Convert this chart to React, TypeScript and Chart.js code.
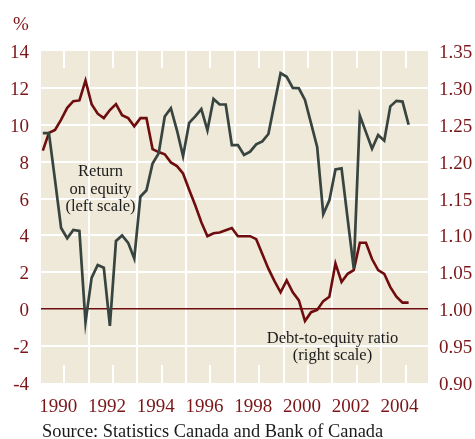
import React, { useEffect, useRef } from "react";
import { Chart, registerables } from "chart.js";

Chart.register(...registerables);

// Quarterly observations (1989Q1 – 2004Q1)
const quarters = [
  "1989Q1", "1989Q2", "1989Q3", "1989Q4",
  "1990Q1", "1990Q2", "1990Q3", "1990Q4",
  "1991Q1", "1991Q2", "1991Q3", "1991Q4",
  "1992Q1", "1992Q2", "1992Q3", "1992Q4",
  "1993Q1", "1993Q2", "1993Q3", "1993Q4",
  "1994Q1", "1994Q2", "1994Q3", "1994Q4",
  "1995Q1", "1995Q2", "1995Q3", "1995Q4",
  "1996Q1", "1996Q2", "1996Q3", "1996Q4",
  "1997Q1", "1997Q2", "1997Q3", "1997Q4",
  "1998Q1", "1998Q2", "1998Q3", "1998Q4",
  "1999Q1", "1999Q2", "1999Q3", "1999Q4",
  "2000Q1", "2000Q2", "2000Q3", "2000Q4",
  "2001Q1", "2001Q2", "2001Q3", "2001Q4",
  "2002Q1", "2002Q2", "2002Q3", "2002Q4",
  "2003Q1", "2003Q2", "2003Q3", "2003Q4",
  "2004Q1",
];

// Return on equity, % (left scale)
const returnOnEquity = [
  9.55, 9.55, 7.0, 4.4, 3.85, 4.3, 4.25, -0.7,
  1.7, 2.4, 2.25, -0.9, 3.7, 4.0, 3.6, 2.75,
  6.1, 6.45, 7.9, 8.45, 10.45, 10.9, 9.7, 8.3,
  10.1, 10.45, 10.85, 9.7, 11.4, 11.1, 11.1, 8.9,
  8.9, 8.36, 8.54, 8.94, 9.1, 9.5, 11.17, 12.8,
  12.6, 12.0, 11.98, 11.35, 10.08, 8.8, 5.15, 5.9,
  7.58, 7.64, 4.9, 2.2, 10.5, 9.6, 8.7, 9.45,
  9.14, 11.0, 11.3, 11.26, 10.0,
];

// Debt-to-equity ratio (right scale)
const debtToEquity = [
  1.215, 1.239, 1.243, 1.257, 1.273, 1.282, 1.283, 1.31,
  1.278, 1.265, 1.259, 1.27, 1.278, 1.263, 1.259, 1.248,
  1.259, 1.259, 1.217, 1.213, 1.21, 1.199, 1.194, 1.184,
  1.162, 1.141, 1.118, 1.099, 1.103, 1.104, 1.107, 1.11,
  1.099, 1.099, 1.099, 1.095, 1.075, 1.055, 1.038, 1.023,
  1.039, 1.023, 1.012, 0.984, 0.996, 0.999, 1.011, 1.017,
  1.062, 1.037, 1.048, 1.053, 1.09, 1.09, 1.068, 1.053,
  1.048, 1.03, 1.017, 1.009, 1.009,
];

const leftTicks = [-4, -2, 0, 2, 4, 6, 8, 10, 12, 14];
const rightTicks = [0.9, 0.95, 1.0, 1.05, 1.1, 1.15, 1.2, 1.25, 1.3, 1.35];
const yearTicks = [1990, 1991, 1992, 1993, 1994, 1995, 1996, 1997, 1998, 1999, 2000, 2001, 2002, 2003, 2004];
const yearLabels = [1990, 1992, 1994, 1996, 1998, 2000, 2002, 2004];

const roeLabel = ["Return", "on equity", "(left scale)"];
const deLabel = ["Debt-to-equity ratio", "(right scale)"];
const sourceText = "Source: Statistics Canada and Bank of Canada";

const BEIGE = "#EEE9D8";
const GREY = "#37443F";
const RED = "#6E0C0E";
const LABEL = "#7A1518";
const SERIF = "'Liberation Serif', 'Times New Roman', serif";

function quarterToX(q: string): number {
  const y = Number(q.slice(0, 4));
  const n = Number(q.slice(5));
  return y + (n - 0.5) / 4;
}

const decorPlugin = {
  id: "decor",
  beforeDraw(chart: any) {
    const { ctx, chartArea } = chart;
    ctx.save();
    ctx.fillStyle = BEIGE;
    ctx.fillRect(chartArea.left, chartArea.top, chartArea.right - chartArea.left, chartArea.bottom - chartArea.top);
    ctx.restore();
  },
  beforeDatasetsDraw(chart: any) {
    const { ctx, chartArea } = chart;
    const xs = chart.scales.x;
    ctx.save();
    ctx.strokeStyle = "#ffffff";
    ctx.lineWidth = 2;
    yearLabels.forEach((yr) => {
      const px = Math.round(xs.getPixelForValue(yr));
      ctx.beginPath();
      ctx.moveTo(px, chartArea.top);
      ctx.lineTo(px, chartArea.top + 17);
      ctx.moveTo(px, chartArea.bottom - 18);
      ctx.lineTo(px, chartArea.bottom);
      ctx.stroke();
    });
    ctx.restore();
  },
  afterDraw(chart: any) {
    const { ctx } = chart;
    ctx.save();
    ctx.fillStyle = LABEL;
    ctx.font = `19px ${SERIF}`;
    ctx.textAlign = "left";
    ctx.textBaseline = "alphabetic";
    ctx.fillText("%", 13, 30);

    ctx.fillStyle = "#1c1c1c";
    ctx.font = `16.5px ${SERIF}`;
    ctx.textAlign = "center";
    const roeY = [176, 194, 211];
    roeLabel.forEach((t, i) => ctx.fillText(t, 100.5, roeY[i]));
    const deY = [343, 360];
    deLabel.forEach((t, i) => ctx.fillText(t, 332.5, deY[i]));

    ctx.fillStyle = "#1a1a1a";
    ctx.font = `18.4px ${SERIF}`;
    ctx.textAlign = "left";
    ctx.fillText(sourceText, 42, 437);
    ctx.restore();
  },
};

export default function App() {
  const ref = useRef<HTMLCanvasElement | null>(null);

  useEffect(() => {
    if (!ref.current) return;
    const xs = quarters.map(quarterToX);
    const chart = new Chart(ref.current, {
      type: "line",
      data: {
        datasets: [
          {
            label: "Return on equity",
            data: returnOnEquity.map((v, i) => ({ x: xs[i], y: v })),
            yAxisID: "y",
            borderColor: GREY,
            borderWidth: 2.7,
            pointRadius: 0,
            tension: 0,
            fill: false,
          },
          {
            label: "Debt-to-equity ratio",
            data: debtToEquity.map((v, i) => ({ x: xs[i], y: v })),
            yAxisID: "y2",
            borderColor: RED,
            borderWidth: 2.6,
            pointRadius: 0,
            tension: 0,
            fill: false,
          },
        ],
      },
      options: {
        animation: false,
        responsive: false,
        devicePixelRatio: 1,
        layout: { padding: { top: 51, left: 0, right: 0, bottom: 0 } },
        plugins: { legend: { display: false }, tooltip: { enabled: false } },
        scales: {
          x: {
            type: "linear",
            min: 1989.05,
            max: 2004.92,
            afterBuildTicks: (s: any) => {
              s.ticks = yearTicks.map((v) => ({ value: v }));
            },
            afterFit: (s: any) => {
              s.height = 56;
            },
            border: { display: false },
            grid: {
              drawTicks: false,
              lineWidth: 2,
              color: (c: any) => (c.tick && c.tick.value % 2 === 1 ? "#ffffff" : "rgba(0,0,0,0)"),
            },
            ticks: {
              autoSkip: false,
              maxRotation: 0,
              padding: 13,
              labelOffset: -6,
              color: LABEL,
              font: { family: SERIF, size: 19 },
              callback: (v: any) => (yearLabels.includes(Number(v)) ? String(v) : ""),
            },
          },
          y: {
            position: "left",
            min: -4,
            max: 14,
            afterBuildTicks: (s: any) => {
              s.ticks = leftTicks.map((v) => ({ value: v }));
            },
            afterFit: (s: any) => {
              s.width = 41;
            },
            border: { display: false },
            grid: {
              drawTicks: false,
              lineWidth: (c: any) => (c.tick && c.tick.value === 0 ? 1.5 : 2),
              color: (c: any) => {
                const v = c.tick ? c.tick.value : null;
                if (v === 0) return RED;
                if (v === -4 || v === 14) return "rgba(0,0,0,0)";
                return "#ffffff";
              },
            },
            ticks: {
              padding: 12,
              labelOffset: 2,
              color: LABEL,
              font: { family: SERIF, size: 19 },
              callback: (v: any) => String(v),
            },
          },
          y2: {
            position: "right",
            min: 0.9,
            max: 1.35,
            afterBuildTicks: (s: any) => {
              s.ticks = rightTicks.map((v) => ({ value: v }));
            },
            afterFit: (s: any) => {
              s.width = 47;
            },
            border: { display: false },
            grid: { display: false, drawTicks: false },
            ticks: {
              padding: 11,
              labelOffset: 2,
              color: LABEL,
              font: { family: SERIF, size: 19 },
              callback: (v: any) => Number(v).toFixed(2),
            },
          },
        },
      },
      plugins: [decorPlugin],
    });
    return () => chart.destroy();
  }, []);

  return (
    <div style={{ position: "fixed", left: 0, top: 0, width: 475, height: 439, background: "#ffffff" }}>
      <canvas ref={ref} width={475} height={439} style={{ display: "block" }} />
    </div>
  );
}
